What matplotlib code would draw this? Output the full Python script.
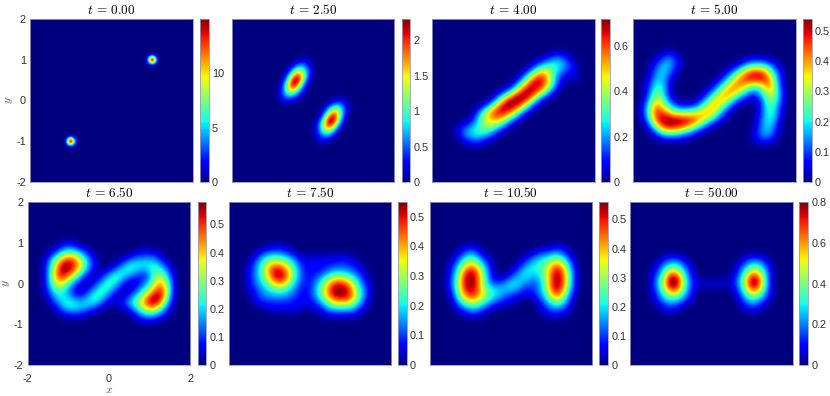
import numpy as np
import matplotlib
matplotlib.use("Agg")
import matplotlib.pyplot as plt

plt.rcParams['font.family'] = ['Liberation Sans', 'DejaVu Sans']
plt.rcParams['mathtext.fontset'] = 'cm'

# Each density is read off the picture as rows of level digits (0..9 of the colour-bar maximum):
# (row from the top, first column, digits). Cells not listed are 0.
times = ["0.00", "2.50", "4.00", "5.00", "6.50", "7.50", "10.50", "50.00"]
vmax = [15, 2.3, 0.72, 0.54, 0.58, 0.55, 0.56, 0.8]
cbar_ticks = [
    [0, 5, 10],
    [0, 0.5, 1, 1.5, 2],
    [0, 0.2, 0.4, 0.6],
    [0, 0.1, 0.2, 0.3, 0.4, 0.5],
    [0, 0.1, 0.2, 0.3, 0.4, 0.5],
    [0, 0.1, 0.2, 0.3, 0.4, 0.5],
    [0, 0.1, 0.2, 0.3, 0.4, 0.5],
    [0, 0.2, 0.4, 0.6, 0.8],
]
cells_per_side = [81, 41, 33, 33, 33, 33, 33, 33]

t000 = [(18,58,"01210"),(19,58,"14641"),(20,58,"26962"),(21,58,"14641"),(22,58,"01210"),
        (58,18,"01210"),(59,18,"14641"),(60,18,"26962"),(61,18,"14641"),(62,18,"01210")]

t250 = [(10,18,"1"),(11,16,"1211"),(12,15,"13321"),(13,14,"135531"),(14,14,"258631"),
        (15,13,"148952"),(16,13,"258731"),(17,12,"126742"),(18,12,"124421"),(19,12,"12221"),
        (20,13,"11"),(20,26,"11"),
        (21,24,"12221"),(22,23,"124421"),(23,23,"247621"),(24,22,"137852"),(25,22,"259841"),
        (26,21,"136852"),(27,21,"135531"),(28,21,"12331"),(29,21,"1121"),(30,22,"1")]

t400 = [(7,24,"111"),(8,22,"123321"),(9,20,"123343321"),(10,19,"1246543211"),
        (11,18,"13688532111"),(12,17,"136897631001"),(13,16,"1368988631"),(14,15,"1368988631"),
        (15,13,"13589998521"),(16,12,"1379999731"),(17,11,"1479998631"),(18,9,"13688987521"),
        (19,9,"357787642"),(20,8,"134566531"),(21,6,"1233555421"),(22,5,"123344431"),
        (23,6,"2333321"),(24,7,"1221")]

t500 = [(7,6,"121"),(8,5,"12321"),(8,23,"1111"),(9,4,"123321"),(9,21,"12333321"),
        (10,4,"13331"),(10,19,"12357776421"),(11,4,"23321"),(11,18,"124688998531"),
        (12,3,"12331"),(12,17,"1246788888731"),(13,3,"13431"),(13,16,"12467765447841"),
        (14,3,"13531"),(14,15,"124677643235742"),(15,3,"24531"),(15,14,"1246775321124642"),
        (16,3,"256421"),(16,13,"12467642110013542"),(17,2,"1377532111124676321"),(17,25,"13531"),
        (18,2,"137875433345676421"),(18,25,"13431"),(19,2,"13788877777776421"),(19,25,"13431"),
        (20,3,"268999998865321"),(20,25,"2342"),(21,3,"1378998875421"),(21,25,"2332"),
        (22,4,"1356554321"),(22,24,"12331"),(23,5,"1222211"),(23,24,"12321"),(24,24,"1111")]

t650 = [(8,8,"1"),(9,6,"12221"),(10,5,"12343321"),(10,22,"1111"),
        (11,4,"1346775321"),(11,20,"1222221"),(12,4,"2468876421"),(12,18,"1233333321"),
        (13,4,"2479876421"),(13,17,"123433334321"),(14,4,"257876421"),(14,15,"12343321124431"),
        (15,4,"25775321"),(15,14,"123432111124642"),(16,4,"2465321"),(16,13,"1234321001235652"),
        (17,4,"234321"),(17,12,"12343210012346862"),(18,4,"133321"),(18,11,"123432100123467862"),
        (19,5,"233322234321"),(19,19,"1234689851"),(20,5,"12343333321"),(20,17,"112345788631"),
        (21,6,"12333221"),(21,20,"12355532"),(22,7,"11111"),(22,21,"1233321"),(23,22,"1111")]

t750 = [(9,8,"1111"),(10,6,"1222221"),(11,5,"1234443321"),(11,16,"111111111"),
        (12,5,"234666543111111112111"),(13,4,"12357887532111112222211"),
        (14,4,"12357998642111123333221"),(15,4,"123468985321123456654321"),
        (16,4,"123356764321123578886421"),(17,4,"112334443211134689987432"),
        (18,5,"12233332211134689998532"),(19,5,"12222222111123578887531"),
        (20,6,"1111111111112345555321"),(21,8,"1111111"),(21,17,"1123333321"),(22,19,"1111111")]

t1050 = [(9,7,"111"),(9,24,"111"),(10,6,"12321"),(10,21,"1222321"),(11,5,"1234321"),
         (11,19,"1233344321"),(12,5,"23565321"),(12,18,"12334467631"),(13,4,"124787521"),
         (13,17,"123434578742"),(14,4,"135898631"),(14,16,"1234334589852"),(15,4,"136998631"),
         (15,15,"12333223589852"),(16,4,"2369986322234332223589852"),
         (17,4,"1368986433333321122589842"),(18,5,"358886543322111123478631"),
         (19,5,"2467754332111"),(19,21,"12356521"),(20,5,"13444432111"),(20,22,"123432"),
         (21,6,"123321"),(21,22,"122221"),(22,7,"1111"),(22,23,"1111")]

t5000 = [(11,7,"1111"),(11,23,"1111"),(12,6,"123321"),(12,22,"123321"),(13,5,"12344321"),
         (13,21,"1234432"),(14,5,"12477421"),(14,21,"1247642"),(15,5,"23699631"),(15,21,"2369852"),
         (16,5,"23699632111111112369952"),(17,5,"23588531"),(17,21,"1358742"),(18,5,"12455421"),
         (18,21,"1245532"),(19,5,"12333321"),(19,22,"133321"),(20,6,"12221"),(20,22,"12221"),
         (21,7,"111"),(21,23,"111")]

panels = [t000, t250, t400, t500, t650, t750, t1050, t5000]

# Pixel layout: axes left, colour-bar left
W, H = 830, 396
row_y = [(19, 182), (19, 182), (19, 182), (19, 182), (202, 365), (202, 365), (202, 365), (202, 365)]
ax_x = [(30, 192.5), (231.5, 394), (432, 594.5), (633, 796),
        (27.7, 190), (228.5, 391), (429.5, 592), (630, 792.5)]
cb_x = [(200, 208.5), (401.5, 410), (601, 610), (803, 811.5),
        (197.5, 206), (398, 406.5), (599, 608), (799, 808)]
FRAME = '#9a9ab8'
TEXT = '#303030'


def box(xr, yr):
    return [xr[0] / W, 1 - yr[1] / H, (xr[1] - xr[0]) / W, (yr[1] - yr[0]) / H]


def build(n, rows):
    g = np.zeros((n, n))
    for r, c, s in rows:
        g[r, c:c + len(s)] = [int(ch) for ch in s]
    # soften the one-digit rounding of the readings, keeping the read peak
    k = np.array([0.25, 0.5, 0.25])
    s = np.apply_along_axis(lambda v: np.convolve(v, k, mode='same'), 0, g)
    s = np.apply_along_axis(lambda v: np.convolve(v, k, mode='same'), 1, s)
    return s / s.max()


fig = plt.figure(figsize=(W / 100, H / 100), dpi=100)

for i, rows in enumerate(panels):
    ax = fig.add_axes(box(ax_x[i], row_y[i]))
    n = cells_per_side[i]
    h = 4 / (n - 1) / 2
    g = build(n, rows) * vmax[i]
    im = ax.imshow(g, cmap='jet', vmin=0, vmax=vmax[i], interpolation='bicubic',
                   interpolation_stage='data', extent=[-2 - h, 2 + h, -2 - h, 2 + h], aspect='auto')
    ax.set_xlim(-2, 2)
    ax.set_ylim(-2, 2)
    ax.set_title(rf"$t\,=\,{times[i]}$", fontsize=9.5, pad=3.5)
    ax.tick_params(axis='y', length=0, labelsize=7.8, labelcolor=TEXT, pad=3)
    ax.tick_params(axis='x', length=0, labelsize=7.8, labelcolor=TEXT, pad=6.5)
    if i in (0, 4):
        ax.set_yticks([-2, -1, 0, 1, 2], ["-2", "-1", "0", "1", "2"])
        ax.set_ylabel(r"$y$", fontsize=8.5, color='#555555', labelpad=1)
    else:
        ax.set_yticks([])
    if i == 4:
        ax.set_xticks([-2, 0, 2], ["-2", "0", "2"])
        ax.set_xlabel(r"$x$", fontsize=8.5, color='#555555', labelpad=0)
    else:
        ax.set_xticks([])
    for s in ax.spines.values():
        s.set_color(FRAME)
        s.set_linewidth(0.6)

    cax = fig.add_axes(box(cb_x[i], row_y[i]))
    cb = fig.colorbar(im, cax=cax)
    cb.set_ticks(cbar_ticks[i], labels=[f"{v:g}" for v in cbar_ticks[i]])
    cb.ax.tick_params(length=0, labelsize=7.8, labelcolor=TEXT, pad=2.5)
    cb.outline.set_edgecolor(FRAME)
    cb.outline.set_linewidth(0.6)

fig.savefig("out.png", dpi=100)
